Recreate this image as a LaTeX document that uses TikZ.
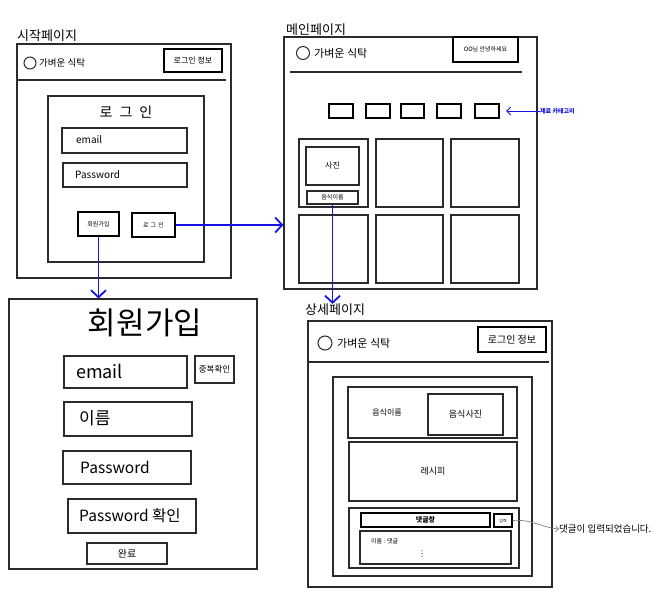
\documentclass[tikz,border=0pt]{standalone}
\usepackage{fontspec}
\setmainfont{Noto Sans CJK KR}
\newfontfamily\dvsans{DejaVu Sans}
\usetikzlibrary{fit,arrows.meta}
\definecolor{ln}{HTML}{2B2B2B}
\definecolor{arrblue}{HTML}{1414E6}
\tikzset{
  frame/.style={draw=ln, line width=1.1pt, inner sep=0pt},
  btn/.style={draw=black, line width=1.5pt, inner sep=0pt},
  thickbox/.style={draw=black, line width=2.4pt, inner sep=0pt},
  fs/.style={font=\fontsize{#1}{#1}\selectfont, inner sep=0pt},
  logo/.style={circle, draw=ln, line width=1pt, inner sep=0pt, minimum size=#1},
  flow/.style={draw=arrblue, line width=1.8pt, -{Straight Barb[length=7pt,width=15pt,line width=1.8pt]}},
  thinflow/.style={draw=arrblue, line width=1pt, -{Straight Barb[length=4pt,width=8pt]}},
  grayflow/.style={draw=gray, line width=0.7pt, -{Straight Barb[length=3pt,width=6pt]}},
}
\begin{document}
\begin{tikzpicture}[x=1pt,y=-1pt]
\useasboundingbox (0,0) rectangle (672,605);
\fill[white] (0,0) rectangle (672,605);

% ---------- Start page ----------
\node[fs=13, anchor=west] (t1) at (17,36) {시작페이지};
\node[frame, fit={(17,44) (231,278)}] (start) {};
\draw[ln, line width=1.1pt] (17,80) -- (226,80);
\node[logo=12pt] (c1) at (30,63) {};
\node[fs=9.5, anchor=west] (brand1) at (39,63) {가벼운 식탁};
\node[btn, fit={(164,49) (222,72)}] (info1) {};
\node[fs=8] at (info1.center) {로그인 정보};
\node[frame, fit={(48,96) (204,262)}] (loginpanel) {};
\node[fs=14] (logintitle) at (126,112) {로\hspace{7pt}그\hspace{7pt}인};
\node[frame, fit={(62,128) (187,153)}] (email1) {};
\node[fs=10, anchor=west] at (76,140) {email};
\node[frame, fit={(63,163) (187,187)}] (pw1) {};
\node[fs=10, anchor=west] at (75,175) {Password};
\node[btn, line width=1.2pt, fit={(78,212) (119,236)}] (signupbtn) {};
\node[fs=6] at (signupbtn.center) {회원가입};
\node[btn, line width=1.2pt, fit={(132,213) (175,237)}] (loginbtn) {};
\node[fs=6] at (loginbtn.center) {로\hspace{2pt}그\hspace{2pt}인};

% ---------- Main page ----------
\node[fs=13, anchor=west] (t2) at (286,30) {메인페이지};
\node[frame, fit={(284,37) (537,289)}] (main) {};
\draw[ln, line width=1.1pt] (290,72) -- (522,72);
\node[logo=13pt] (c2) at (303,53) {};
\node[fs=11, anchor=west] (brand2) at (314,53) {가벼운 식탁};
\node[btn, line width=1.8pt, fit={(453,37) (518,62)}] (greet) {};
\node[fs=6] at (greet.center) {OO님 안녕하세요};
\node[thickbox, fit={(329,104) (353,118)}] (k1) {};
\node[thickbox, fit={(366,104) (390,118)}] (k2) {};
\node[thickbox, fit={(401,104) (424,118)}] (k3) {};
\node[thickbox, fit={(437,104) (461,118)}] (k4) {};
\node[thickbox, fit={(475,104) (499,118)}] (k5) {};
\node[fs=6, text=arrblue, font=\fontsize{6}{6}\selectfont\bfseries, anchor=west] (kw) at (540,111) {재료 카테고리};
\coordinate (kwtip) at (506,111);
\draw[thinflow] (kw.west) -- (kwtip);
\node[frame, fit={(299,139) (368,207)}] (g11) {};
\node[frame, fit={(376,139) (443,207)}] (g12) {};
\node[frame, fit={(451,139) (519,207)}] (g13) {};
\node[frame, fit={(299,215) (368,283)}] (g21) {};
\node[frame, fit={(376,215) (443,283)}] (g22) {};
\node[frame, fit={(451,215) (519,283)}] (g23) {};
\node[frame, fit={(306,147) (359,185)}] (photo) {};
\node[fs=8] at (photo.center) {사진};
\node[frame, fit={(307,191) (358,204)}] (foodname) {};
\node[fs=6] at (foodname.center) {음식이름};

% ---------- Sign-up page ----------
\node[frame, fit={(9,299) (257,569)}] (signup) {};
\node[fs=31] (sutitle) at (145,323) {회원가입};
\node[frame, fit={(64,356) (187,388)}] (email2) {};
\node[fs=18, anchor=west] at (76,371) {email};
\node[frame, line width=1.3pt, fit={(195,356) (234,383)}] (dup) {};
\node[fs=8.5] at (dup.center) {중복확인};
\node[frame, fit={(64,402) (192,436)}] (name2) {};
\node[fs=17, anchor=west] at (79,418) {이름};
\node[frame, fit={(63,451) (191,484)}] (pw2) {};
\node[fs=15.5, anchor=west] at (80,467) {Password};
\node[frame, fit={(68,499) (196,533)}] (pwc) {};
\node[fs=15.5, anchor=west] at (79,516) {Password 확인};
\node[frame, line width=1.3pt, fit={(87,543) (167,564)}] (done) {};
\node[fs=10] at (done.center) {완료};

% ---------- Detail page ----------
\node[fs=13, anchor=west] (t3) at (305,310) {상세페이지};
\node[frame, fit={(308,321) (552,587)}] (detail) {};
\draw[ln, line width=1.1pt] (308,362) -- (549,362);
\node[logo=14pt] (c3) at (325,343) {};
\node[fs=11, anchor=west] (brand3) at (337,343) {가벼운 식탁};
\node[btn, line width=1.8pt, fit={(478,327) (546,352)}] (info3) {};
\node[fs=10] at (info3.center) {로그인 정보};
\node[frame, fit={(333,377) (532,576)}] (dpanel) {};
\node[frame, fit={(348,387) (517,438)}] (dtop) {};
\node[fs=8] at (387,413) {음식이름};
\node[frame, fit={(428,394) (503,435)}] (dphoto) {};
\node[fs=9] at (dphoto.center) {음식사진};
\node[frame, fit={(349,442) (517,501)}] (recipe) {};
\node[fs=9] at (recipe.center) {레시피};
\node[frame, fit={(349,508) (519,568)}] (cbox) {};
\node[btn, line width=1.2pt, fit={(361,513) (490,527)}] (cinput) {};
\node[fs=7, font=\fontsize{7}{7}\selectfont\bfseries] at (cinput.center) {댓글창};
\node[btn, line width=1.2pt, fit={(494,514) (512,527)}] (submit) {};
\node[fs=4] at (submit.center) {입력};
\node[frame, fit={(360,531) (511,564)}] (clist) {};
\node[fs=6, anchor=west] at (371,541) {이름 : 댓글};
\node[fs=8, font=\fontsize{8}{8}\selectfont\dvsans] at (422,554) {⋮};
\node[fs=9.5, anchor=west] (msg) at (559,529) {댓글이 입력되었습니다.};
\draw[grayflow] (submit.east) .. controls (532,519) and (543,528) .. (msg.west);

% ---------- Flow arrows ----------
\draw[flow] (loginbtn.east) -- (loginbtn.east -| main.west);
\draw[flow] (signupbtn.south) -- (signupbtn.south |- signup.north);
\draw[flow] (foodname.south) -- (foodname.south |- t3.north);
\end{tikzpicture}
\end{document}
